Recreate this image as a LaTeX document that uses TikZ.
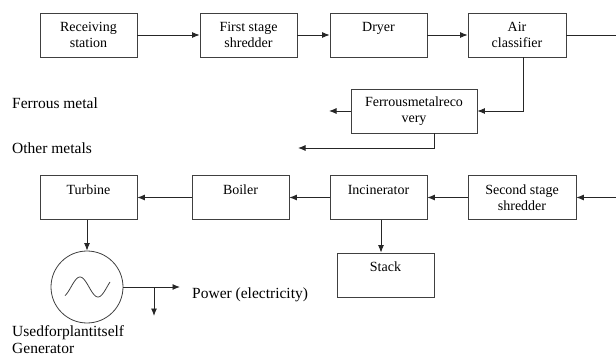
\documentclass[tikz,border=0pt]{standalone}
\usepackage{fontspec}
\setmainfont{Liberation Serif}
\usetikzlibrary{arrows.meta}
\begin{document}
\begin{tikzpicture}[
x=1pt,y=-1pt,
stage/.style={rectangle,draw=black!75,line width=0.8pt,minimum width=97pt,minimum height=44pt,align=center,inner sep=2pt,font=\fontsize{14}{16}\selectfont},
outlabel/.style={anchor=west,inner sep=0pt,align=left,font=\fontsize{15.5}{17}\selectfont},
flow/.style={draw=black!85,line width=0.9pt,-{Latex[length=7.5pt,width=6pt]}},
gen/.style={circle,draw=black!75,line width=0.8pt,minimum size=72pt}
]
\useasboundingbox (0,0) rectangle (616,358);

% upper line
\node[stage] (rec) at (88.5,35) {Receiving\\station};
\node[stage] (fss) at (248.5,35) {First stage\\shredder};
\node[stage] (dry) at (378.5,35) {Dryer\\~};
\node[stage,minimum width=98pt] (air) at (517,35) {Air\\classifier};
\node[stage,minimum width=126pt] (fmr) at (414,111) {Ferrousmetalreco\\very};

% lower line
\node[stage] (tur) at (88.5,197.5) {Turbine\\~};
\node[stage] (boi) at (240.5,197.5) {Boiler\\~};
\node[stage] (inc) at (378.5,197.5) {Incinerator\\~};
\node[stage,minimum width=108pt] (sss) at (522,197.5) {Second stage\\shredder};
\node[stage] (stk) at (385.5,275) {Stack\\~};
\node[gen] (gen) at (87,287) {};

% outputs
\node[outlabel] (fe) at (12,103) {Ferrous metal};
\node[outlabel] (om) at (12,148) {Other metals};
\node[outlabel] (pow) at (192,295) {Power (electricity)};
\node[outlabel] (use) at (12,340) {Usedforplantitself\\Generator};

\coordinate (out) at (616,35);
\coordinate (in) at (616,197.5);
\coordinate (fe end) at (329,111);
\coordinate (om end) at (298,148);
\coordinate (pw end) at (180,287);
\coordinate (br) at (154,287);
\coordinate (self end) at (154,316);

\draw[flow] (rec) -- (fss);
\draw[flow] (fss) -- (dry);
\draw[flow] (dry) -- (air);
\draw[draw=black!85,line width=0.9pt] (air) -- (out);
\draw[flow] ([xshift=6pt]air.south) |- (fmr.east);
\draw[flow] (fmr.west) -- (fe end);
\draw[flow] ([xshift=20pt]fmr.south) |- (om end);

\draw[flow] (in) -- (sss);
\draw[flow] (sss) -- (inc);
\draw[flow] (inc) -- (boi);
\draw[flow] (boi) -- (tur);
\draw[flow] ([xshift=2.5pt]inc.south) -- ([xshift=2.5pt]inc.south |- stk.north);
\draw[flow] (gen.north |- tur.south) -- (gen.north);
\draw[flow] (gen.east) -- (pw end);
\draw[flow] (br) -- (self end);

% wave in the generator
\draw[black!75,line width=0.8pt] plot[domain=0:45,samples=40,smooth] ({65+\x},{287-10*sin(10*(\x-6))});

\end{tikzpicture}
\end{document}
